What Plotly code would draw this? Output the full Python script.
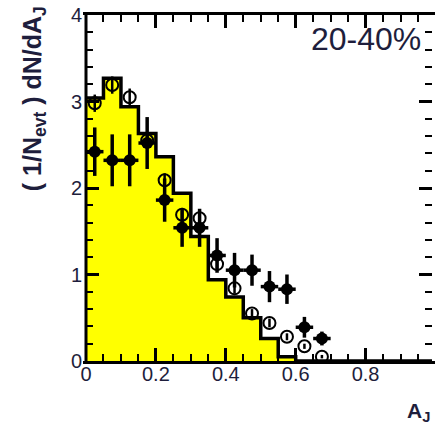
import plotly.graph_objects as go

# A_J binning (bin width 0.05)
bin_edges = [round(0.05 * i, 2) for i in range(21)]
bin_centers = [round(0.025 + 0.05 * i, 3) for i in range(14)]

# HIJING+PYTHIA reference histogram, 20-40%
mc_hist = [3.04, 3.27, 2.94, 2.63, 2.36, 1.94, 1.44, 0.94, 0.74, 0.50,
           0.26, 0.05, 0.0, 0.0, 0.0, 0.0, 0.0, 0.0, 0.0, 0.0]

# Pb+Pb data (filled points)
pbpb_y = [2.42, 2.32, 2.32, 2.52, 1.86, 1.54, 1.54, 1.22, 1.05, 1.05,
          0.86, 0.83, 0.39, 0.26]
pbpb_err = [0.28, 0.30, 0.30, 0.30, 0.25, 0.22, 0.22, 0.20, 0.20, 0.18,
            0.18, 0.17, 0.12, 0.08]

# p+p data (open points)
pp_y = [2.98, 3.19, 3.05, 2.55, 2.09, 1.69, 1.65, 1.12, 0.84, 0.55,
        0.44, 0.28, 0.17, 0.05]
pp_err = [0.10, 0.10, 0.10, 0.09, 0.08, 0.08, 0.08, 0.07, 0.06, 0.05,
          0.05, 0.04, 0.03, 0.02]

half_bin = [0.025] * len(bin_centers)

FONT = "Liberation Sans, Arial, sans-serif"
TEXT_COLOR = "#1e1e3c"

fig = go.Figure()

# step histogram, closed with the last bin value at the upper edge
fig.add_trace(go.Scatter(
    x=bin_edges, y=mc_hist + [mc_hist[-1]],
    mode="lines", line=dict(shape="hv", color="black", width=3.5),
    fill="tozeroy", fillcolor="#ffff00", hoverinfo="skip", showlegend=False,
))

fig.add_trace(go.Scatter(
    x=bin_centers, y=pp_y, mode="markers",
    marker=dict(symbol="circle-open", size=12, color="black", line=dict(width=2)),
    error_y=dict(type="data", array=pp_err, color="black", thickness=2.5, width=0),
    showlegend=False,
))

fig.add_trace(go.Scatter(
    x=bin_centers, y=pbpb_y, mode="markers",
    marker=dict(symbol="circle", size=12, color="black"),
    error_y=dict(type="data", array=pbpb_err, color="black", thickness=3.5, width=0),
    error_x=dict(type="data", array=half_bin, color="black", thickness=3.5, width=0),
    showlegend=False,
))

tick_font = dict(family=FONT, size=20, color=TEXT_COLOR)

fig.update_layout(
    width=435, height=425,
    margin=dict(l=86, r=0, t=15, b=64),
    paper_bgcolor="white", plot_bgcolor="white",
    xaxis=dict(
        range=[0, 0.99], showgrid=False, zeroline=False,
        showline=True, linecolor="black", linewidth=3, mirror="ticks",
        ticks="inside", ticklen=13, tickwidth=2.5, tickcolor="black",
        tickvals=[0, 0.2, 0.4, 0.6, 0.8, 1.0], ticktext=["0", "0.2", "0.4", "0.6", "0.8", "1"],
        minor=dict(dtick=0.05, ticks="inside", ticklen=7, tickwidth=2, tickcolor="black"),
        tickfont=tick_font, ticklabelstandoff=-7,
    ),
    # y line kept transparent so the mirrored side shows only its ticks;
    # the left frame edge is drawn as a shape below
    yaxis=dict(
        range=[0, 4], showgrid=False, zeroline=False,
        showline=True, linecolor="rgba(0,0,0,0)", linewidth=3, mirror="ticks",
        ticks="inside", ticklen=13, tickwidth=2.5, tickcolor="black",
        tickvals=[0, 1, 2, 3, 4],
        minor=dict(dtick=0.2, ticks="inside", ticklen=7, tickwidth=2, tickcolor="black"),
        tickfont=tick_font, ticklabelstandoff=-3,
    ),
    shapes=[
        dict(type="line", xref="paper", yref="paper", x0=0, x1=0, y0=0, y1=1,
             line=dict(color="black", width=3), layer="above"),
    ],
    annotations=[
        dict(text="20-40%", xref="paper", yref="paper", x=0.975, y=0.988,
             xanchor="right", yanchor="top", showarrow=False,
             font=dict(family=FONT, size=32, color=TEXT_COLOR)),
        dict(text="<b>A<sub>J</sub></b>", xref="paper", yref="paper", x=1.0, y=-0.105,
             xanchor="right", yanchor="top", showarrow=False,
             font=dict(family=FONT, size=21, color=TEXT_COLOR)),
        dict(text="<b>( 1/N<sub>evt</sub> ) dN/dA<sub>J</sub></b>", xref="paper", yref="paper",
             x=-0.15, y=1.03, xanchor="center", yanchor="top", textangle=-90,
             showarrow=False,
             font=dict(family=FONT, size=25, color=TEXT_COLOR)),
    ],
)

fig.write_html("out.html")
